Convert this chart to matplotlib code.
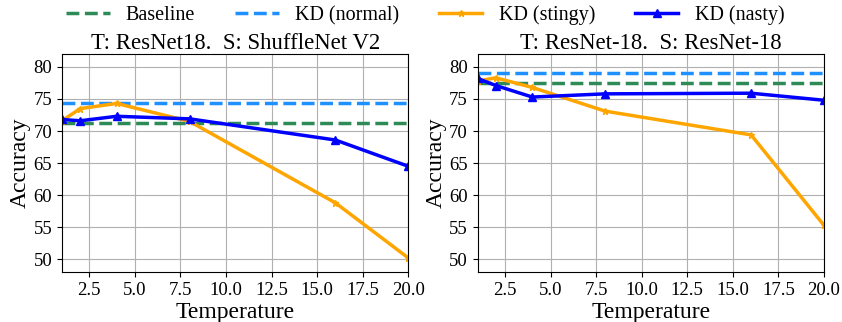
import matplotlib
matplotlib.use('Agg')
import matplotlib.pyplot as plt

plt.rcParams['font.family'] = ['Liberation Serif', 'DejaVu Serif']

temps = [1, 2, 4, 8, 16, 20]

titles = ['T: ResNet18.  S: ShuffleNet V2', 'T: ResNet-18.  S: ResNet-18']
baseline = [71.2, 77.5]
kd_normal = [74.3, 79.0]
kd_stingy = [
    [71.6, 73.5, 74.3, 71.5, 58.8, 50.2],
    [77.8, 78.3, 76.8, 73.1, 69.4, 55.3],
]
kd_nasty = [
    [71.8, 71.6, 72.3, 71.9, 68.6, 64.5],
    [78.2, 77.1, 75.3, 75.8, 75.9, 74.8],
]

fig, axes = plt.subplots(1, 2, figsize=(8.42, 3.22), dpi=100)

for i, ax in enumerate(axes):
    ax.axhline(baseline[i], color='seagreen', linestyle='--', linewidth=2.5, label='Baseline')
    ax.axhline(kd_normal[i], color='dodgerblue', linestyle='--', linewidth=2.5, label='KD (normal)')
    ax.plot(temps, kd_stingy[i], color='orange', marker='*', markersize=5, linewidth=2.5, label='KD (stingy)')
    ax.plot(temps, kd_nasty[i], color='blue', marker='^', markersize=6, linewidth=2.5, label='KD (nasty)')
    ax.set_xlim(1, 20)
    ax.set_ylim(48, 82)
    ax.set_yticks([50, 55, 60, 65, 70, 75, 80])
    ax.set_xticks([2.5, 5.0, 7.5, 10.0, 12.5, 15.0, 17.5, 20.0])
    ax.grid(True, color='#b0b0b0', linewidth=0.8)
    ax.tick_params(labelsize=13.5)
    ax.set_xlabel('Temperature', fontsize=17, labelpad=2)
    ax.set_ylabel('Accuracy', fontsize=17, labelpad=2)
    ax.set_title(titles[i], fontsize=16.4, pad=3)

handles, labels = axes[0].get_legend_handles_labels()
fig.legend(handles, labels, loc='center', ncol=4, frameon=False, fontsize=14.5,
           bbox_to_anchor=(0.505, 0.953), columnspacing=2.0, handlelength=2.15,
           handletextpad=0.8, borderpad=0.1)

fig.subplots_adjust(left=0.0736, right=0.9786, top=0.832, bottom=0.155, wspace=0.2)
fig.savefig('out.png', dpi=100)
